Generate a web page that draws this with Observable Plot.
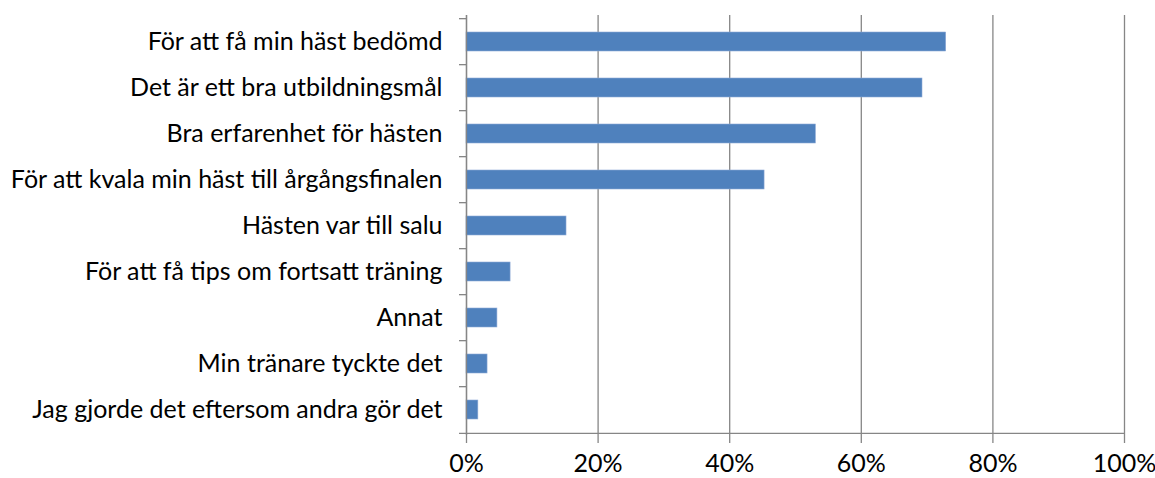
<!DOCTYPE html>
<html>
<head>
<meta charset="utf-8">
<script src="https://cdn.jsdelivr.net/npm/d3@7"></script>
<script src="https://cdn.jsdelivr.net/npm/@observablehq/plot@0.6"></script>
<style>
  html, body { margin: 0; padding: 0; background: #fff; }
  #chart { width: 1155px; height: 478px; }
</style>
</head>
<body>
<div id="chart"></div>
<script>
const categories = [
  "För att få min häst bedömd",
  "Det är ett bra utbildningsmål",
  "Bra erfarenhet för hästen",
  "För att kvala min häst till årgångsfinalen",
  "Hästen var till salu",
  "För att få tips om fortsatt träning",
  "Annat",
  "Min tränare tyckte det",
  "Jag gjorde det eftersom andra gör det"
];
const values = [0.729, 0.693, 0.531, 0.453, 0.152, 0.067, 0.047, 0.032, 0.018];
const xTicks = [0, 0.2, 0.4, 0.6, 0.8, 1.0];

const data = categories.map((c, i) => ({category: c, value: values[i]}));

const W = 1155, H = 478;
const mTop = 15, mBottom = 43, mLeft = 466, mRight = 31;
const step = (H - mTop - mBottom) / categories.length;
const tickLen = 7 / (W - mLeft - mRight); // in x data units (domain 0..1)
const gray = "#868686";
const pad = 0.59;

const chart = Plot.plot({
  width: W,
  height: H,
  marginTop: mTop,
  marginBottom: mBottom,
  marginLeft: mLeft,
  marginRight: mRight,
  style: {fontFamily: "Lato, sans-serif", fontSize: "25px", color: "#000", background: "#fff"},
  x: {domain: [0, 1], label: null},
  y: {domain: categories, paddingInner: pad, paddingOuter: pad / 2, label: null},
  marks: [
    Plot.gridX(xTicks, {stroke: gray, strokeOpacity: 1, strokeWidth: 1.3}),
    Plot.barX(data, {x: "value", y: "category", fill: "#4f81bd", stroke: "#8eaad6", strokeWidth: 0.6}),
    // category boundary ticks on y axis
    Plot.ruleY(categories, {y: d => d, x1: -tickLen, x2: 0, dy: -step / 2, stroke: gray, strokeWidth: 1.3}),
    Plot.ruleY(categories.slice(-1), {y: d => d, x1: -tickLen, x2: 1, dy: step / 2, stroke: gray, strokeWidth: 1.3}),
    Plot.ruleX([0], {stroke: gray, strokeWidth: 1.3}),
    Plot.axisY({tickSize: 0, tickPadding: 24, fontSize: 25, label: null}),
    Plot.axisX({ticks: xTicks, tickSize: 8, tickPadding: 11, stroke: gray, strokeWidth: 1.3, strokeOpacity: 1, tickFormat: d3.format(".0%"), fontSize: 25, label: null})
  ]
});
document.getElementById("chart").appendChild(chart);
</script>
</body>
</html>
